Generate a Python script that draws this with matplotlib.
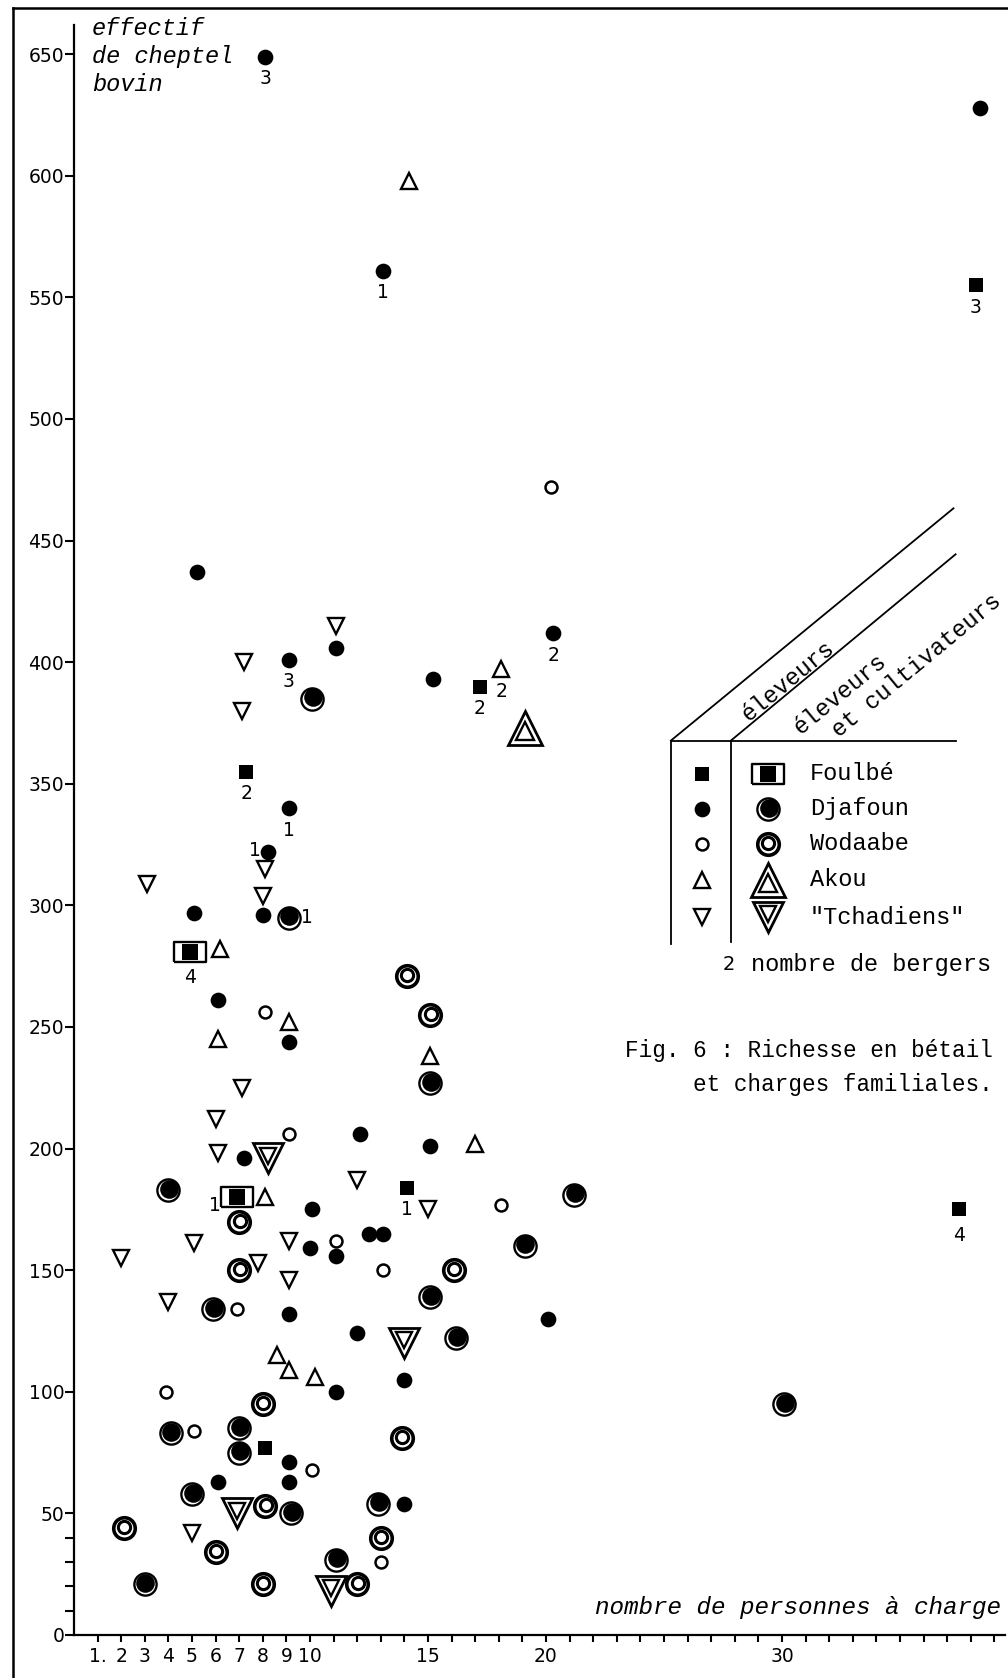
import numpy as np
import matplotlib
matplotlib.use('Agg')
import matplotlib.pyplot as plt
from matplotlib.transforms import ScaledTranslation

# ---- données (x = personnes à charge, y = effectif bovin) ----
# éleveurs
foulbe_x = [38.2, 7.3, 17.2, 14.1, 37.5, 8.1]
foulbe_y = [555, 355, 390, 184, 175, 77]
djafoun_x = [8.1, 13.1, 38.4, 5.2, 11.1, 9.1, 20.3, 15.2, 9.1, 8.2, 8.0, 5.1, 6.1, 9.1, 12.1, 15.1,
             7.2, 10.1, 10.0, 11.1, 12.5, 13.1, 9.1, 12.0, 20.1, 14.0, 11.1, 9.1, 9.1, 6.1, 14.0]
djafoun_y = [649, 561, 628, 437, 406, 401, 412, 393, 340, 322, 296, 297, 261, 244, 206, 201,
             196, 175, 159, 156, 165, 165, 132, 124, 130, 105, 100, 71, 63, 63, 54]
wodaabe_x = [20.2, 8.1, 9.1, 18.1, 11.1, 13.1, 6.9, 3.9, 5.1, 10.1, 13.0]
wodaabe_y = [472, 256, 206, 177, 162, 150, 134, 100, 84, 68, 30]
akou_x = [14.2, 18.1, 6.2, 9.1, 6.1, 15.1, 17.0, 8.1, 8.6, 9.1, 10.2]
akou_y = [598, 397, 282, 252, 245, 238, 202, 180, 115, 109, 106]
tchad_x = [11.1, 7.2, 7.1, 3.1, 8.1, 8.0, 7.1, 6.0, 6.1, 12.0, 15.0, 2.0, 5.1, 9.1, 7.8, 9.1, 4.0, 5.0]
tchad_y = [415, 400, 380, 309, 315, 304, 225, 212, 198, 187, 175, 155, 161, 162, 153, 146, 137, 42]

# éleveurs et cultivateurs
foulbe_ec_x = [4.9, 6.9]
foulbe_ec_y = [281, 180]
djafoun_ec_x = [10.1, 9.1, 15.1, 4.0, 21.2, 19.1, 15.1, 5.9, 16.2, 30.1, 4.1, 7.0, 7.0, 5.0, 9.2, 12.9, 11.1, 3.0]
djafoun_ec_y = [385, 295, 227, 183, 181, 160, 139, 134, 122, 95, 83, 85, 75, 58, 50, 54, 31, 21]
wodaabe_ec_x = [14.1, 15.1, 7.0, 7.0, 16.1, 8.0, 13.9, 8.1, 2.1, 13.0, 6.0, 8.0, 12.0]
wodaabe_ec_y = [271, 255, 170, 150, 150, 95, 81, 53, 44, 40, 34, 21, 21]
akou_ec_x = [19.1]
akou_ec_y = [373]
tchad_ec_x = [8.2, 14.0, 6.9, 10.9]
tchad_ec_y = [196, 120, 50, 18]

# nombre de bergers
bergers_x = [8.1, 13.1, 38.2, 20.3, 18.1, 17.2, 9.1, 7.3, 9.1, 8.2, 9.1, 4.9, 6.9, 14.1, 37.5]
bergers_y = [649, 561, 555, 412, 397, 390, 401, 355, 340, 322, 295, 281, 180, 184, 175]
bergers_n = ['3', '1', '3', '2', '2', '2', '3', '2', '1', '1', '1', '4', '1', '1', '4']
bergers_pos = ['b', 'b', 'b', 'b', 'b', 'b', 'b', 'b', 'b', 'l', 'r', 'bb', 'll', 'b', 'bb']

x_ticks = list(range(1, 40))
x_labels = {1: '1.', 2: '2', 3: '3', 4: '4', 5: '5', 6: '6', 7: '7', 8: '8', 9: '9', 10: '10',
            15: '15', 20: '20', 30: '30'}
y_ticks = list(range(0, 651, 50))
y_minor = [10, 20, 30, 40]

groupes = ['Foulbé', 'Djafoun', 'Wodaabe', 'Akou', '"Tchadiens"']

MONO = 'Liberation Mono'
SANS = 'DejaVu Sans'

fig = plt.figure(figsize=(10.08, 16.78), dpi=100)
W, H = 1008, 1678
ax = fig.add_axes([74 / W, 43 / H, (1005 - 74) / W, (1635 - 25) / H])
ax.set_xlim(0, 39.45)
ax.set_ylim(0, 662)


def decal(base, dx, dy):
    return base + ScaledTranslation(dx / 72, dy / 72, fig.dpi_scale_trans)


RECT = [(-1.6, -1), (1.6, -1), (1.6, 1), (-1.6, 1), (-1.6, -1)]
styles = {
    'foulbe': [dict(marker='s', ms=10, mfc='k', mec='k', mew=0)],
    'djafoun': [dict(marker='o', ms=11.3, mfc='k', mec='k', mew=0)],
    'wodaabe': [dict(marker='o', ms=8.6, mfc='w', mec='k', mew=1.8)],
    'akou': [dict(marker='^', ms=12, mfc='w', mec='k', mew=1.7)],
    'tchad': [dict(marker='v', ms=12, mfc='w', mec='k', mew=1.7)],
    'foulbe_ec': [dict(marker=RECT, ms=23, mfc='w', mec='k', mew=1.7),
                  dict(marker='s', ms=11, mfc='k', mec='k', mew=0)],
    'djafoun_ec': [dict(marker='o', ms=16, mfc='w', mec='k', mew=1.7),
                   dict(marker='o', ms=13.4, mfc='k', mec='k', mew=0, d=(0.5, 1.0))],
    'wodaabe_ec': [dict(marker='o', ms=15.5, mfc='w', mec='k', mew=2.6),
                   dict(marker='o', ms=8.8, mfc='w', mec='k', mew=2.2, d=(0.3, 0.6))],
    'akou_ec': [dict(marker='^', ms=24, mfc='w', mec='k', mew=2.0),
                dict(marker='^', ms=13, mfc='w', mec='k', mew=1.7, d=(0, -2.0))],
    'tchad_ec': [dict(marker='v', ms=22, mfc='w', mec='k', mew=2.0),
                 dict(marker='v', ms=11.5, mfc='w', mec='k', mew=1.7, d=(0, 2.0))],
}


def draw(a, xs, ys, key):
    for st in styles[key]:
        st = dict(st)
        d = st.pop('d', (0, 0))
        a.plot(xs, ys, ls='none', transform=decal(a.transData, *d), clip_on=False, **st)


draw(ax, foulbe_x, foulbe_y, 'foulbe')
draw(ax, djafoun_x, djafoun_y, 'djafoun')
draw(ax, wodaabe_x, wodaabe_y, 'wodaabe')
draw(ax, akou_x, akou_y, 'akou')
draw(ax, tchad_x, tchad_y, 'tchad')
draw(ax, foulbe_ec_x, foulbe_ec_y, 'foulbe_ec')
draw(ax, djafoun_ec_x, djafoun_ec_y, 'djafoun_ec')
draw(ax, wodaabe_ec_x, wodaabe_ec_y, 'wodaabe_ec')
draw(ax, akou_ec_x, akou_ec_y, 'akou_ec')
draw(ax, tchad_ec_x, tchad_ec_y, 'tchad_ec')

# petits chiffres : nombre de bergers
decalages = {'b': (0, -16), 'bb': (0, -19), 'l': (-9, 1), 'll': (-16, -6), 'r': (13, 0)}
for x, y, n, p in zip(bergers_x, bergers_y, bergers_n, bergers_pos):
    ax.annotate(n, (x, y), xytext=decalages[p], textcoords='offset points',
                ha='center', va='center', fontsize=13.5, family=SANS)

# axes
for s in ['top', 'right']:
    ax.spines[s].set_visible(False)
for s in ['left', 'bottom']:
    ax.spines[s].set_linewidth(1.6)
ax.set_xticks(x_ticks)
ax.set_xticklabels([x_labels.get(t, '') for t in x_ticks], fontsize=13.5, family=SANS)
ax.set_yticks(y_ticks)
ax.set_yticklabels([str(t) for t in y_ticks], fontsize=13.5, family=SANS)
ax.set_yticks(y_minor, minor=True)
ax.tick_params(axis='x', direction='out', length=5, width=1.5, pad=4)
ax.tick_params(axis='y', which='both', direction='out', length=6.5, width=1.5, pad=0.5)
ax.patch.set_alpha(0)

# calque en pixels pour légende et textes
ov = fig.add_axes([0, 0, 1, 1])
ov.set_xlim(0, W)
ov.set_ylim(H, 0)
ov.axis('off')

ov.plot([13, 13], [8, H], color='k', lw=1.8)
ov.plot([13, W], [8, 8], color='k', lw=1.8)

ov.text(92, 35, 'effectif', family=MONO, style='italic', fontsize=17, va='baseline')
ov.text(92, 63, 'de cheptel', family=MONO, style='italic', fontsize=17, va='baseline')
ov.text(92, 91, 'bovin', family=MONO, style='italic', fontsize=17, va='baseline')
ov.text(1001, 1614, 'nombre de personnes à charge', family=MONO, style='italic',
        fontsize=17.5, ha='right', va='baseline')

# cadre de la légende
lk = dict(color='k', lw=1.3)
ov.plot([671, 956], [740.5, 740.5], **lk)
ov.plot([671, 953.5], [740.5, 508.3], **lk)
ov.plot([731, 955.6], [740.5, 554.3], **lk)
ov.plot([671, 671], [740.5, 944], **lk)
ov.plot([731, 731], [740.5, 942], **lk)
rot = 39.5
ov.text(748, 722, 'éleveurs', family=MONO, fontsize=17, rotation=rot,
        rotation_mode='anchor', ha='left', va='baseline')
ov.text(800, 735, 'éleveurs', family=MONO, fontsize=17, rotation=rot,
        rotation_mode='anchor', ha='left', va='baseline')
ov.text(839, 738, 'et cultivateurs', family=MONO, fontsize=17, rotation=rot,
        rotation_mode='anchor', ha='left', va='baseline')

rows = [774, 809, 844, 880, 917]
keys = ['foulbe', 'djafoun', 'wodaabe', 'akou', 'tchad']
for r, k, g in zip(rows, keys, groupes):
    draw(ov, [702], [r], k)
    draw(ov, [768], [r], k + '_ec')
    ov.text(810, r, g, family=MONO, fontsize=17, va='center')

ov.text(729, 965, '2', family=SANS, fontsize=14, ha='center', va='center')
ov.text(751, 965, 'nombre de bergers', family=MONO, fontsize=17, va='center')
ov.text(993, 1050, 'Fig. 6 : Richesse en bétail', family=MONO, fontsize=16.3,
        ha='right', va='center')
ov.text(993, 1085, 'et charges familiales.', family=MONO, fontsize=16.3,
        ha='right', va='center')

fig.savefig('out.png', dpi=100)
